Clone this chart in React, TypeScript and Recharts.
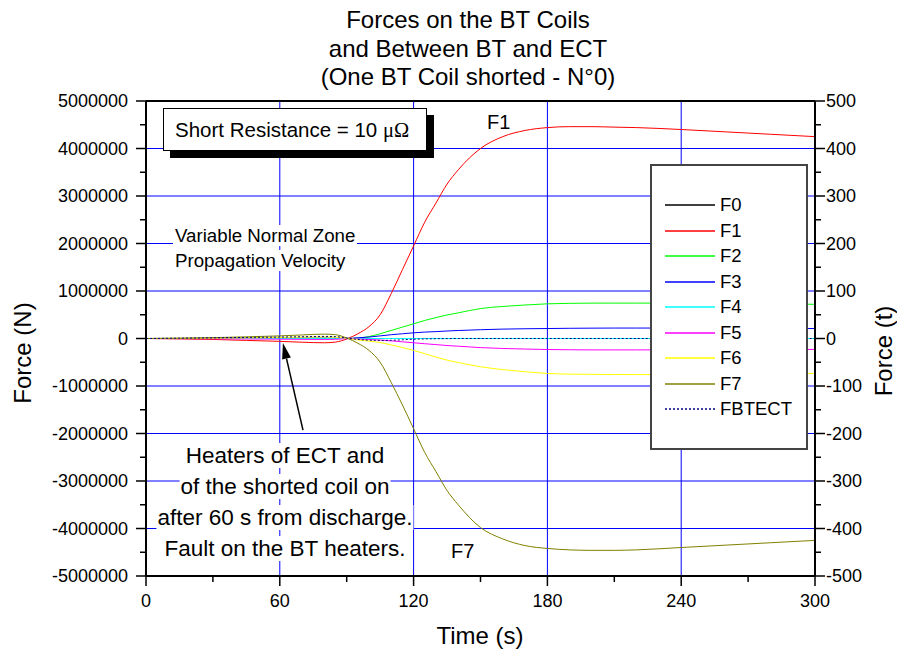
import { CartesianGrid, Line, LineChart, ReferenceLine, XAxis, YAxis } from "recharts";

// time base (s)
const T = [0, 15, 30, 45, 60, 70, 80, 85, 90, 95, 100, 105, 110, 115, 120, 125, 130, 135, 140, 150, 160, 170, 180, 190, 200, 210, 220, 240, 260, 280, 300];

// forces (N)
const F0 = [0, 0, 0, 0, 0, 0, 0, 0, 0, 0, 0, 0, 0, 0, 0, 0, 0, 0, 0, 0, 0, 0, 0, 0, 0, 0, 0, 0, 0, 0, 0];
const F1 = [0, -8000, -20000, -40000, -60000, -78000, -90000, -75000, -10000, 100000, 250000, 500000, 950000, 1450000, 1950000, 2450000, 2850000, 3250000, 3550000, 4000000, 4250000, 4380000, 4440000, 4460000, 4460000, 4450000, 4440000, 4400000, 4350000, 4300000, 4250000];
const F2 = [0, 0, 2000, 4000, 5000, 5000, 5000, 4000, 0, 10000, 40000, 100000, 170000, 240000, 310000, 380000, 440000, 495000, 540000, 630000, 675000, 705000, 730000, 740000, 745000, 745000, 745000, 745000, 740000, 730000, 720000];
const F3 = [0, 2000, 4000, 6000, 8000, 10000, 10000, 8000, 0, 15000, 30000, 55000, 80000, 100000, 120000, 135000, 145000, 158000, 168000, 185000, 198000, 205000, 210000, 215000, 218000, 220000, 220000, 220000, 218000, 215000, 210000];
const F4 = [0, 0, 0, 0, 0, 0, 0, 0, 0, 0, 0, 0, 0, 0, 0, 0, 0, 0, 0, 0, 0, 0, 0, 0, 0, 0, 0, 0, 0, 0, 0];
const F5 = [0, -3000, -6000, -10000, -14000, -17000, -20000, -17000, -3000, -10000, -20000, -32000, -50000, -70000, -90000, -110000, -128000, -148000, -162000, -192000, -210000, -222000, -232000, -237000, -240000, -240000, -240000, -238000, -235000, -232000, -230000];
const F6 = [0, 4000, 9000, 15000, 22000, 28000, 33000, 28000, 5000, -30000, -55000, -85000, -135000, -190000, -250000, -320000, -390000, -455000, -505000, -595000, -655000, -700000, -735000, -750000, -755000, -758000, -760000, -760000, -755000, -745000, -735000];
const F7 = [0, 6000, 18000, 35000, 55000, 75000, 92000, 80000, 10000, -100000, -250000, -500000, -930000, -1400000, -1900000, -2400000, -2800000, -3200000, -3500000, -3980000, -4220000, -4360000, -4420000, -4450000, -4460000, -4460000, -4450000, -4400000, -4350000, -4300000, -4250000];
const FBTECT = [0, 7000, 14000, 22000, 30000, 37000, 44000, 40000, 10000, -20000, -35000, -40000, -38000, -28000, -15000, -8000, -4000, -2000, 0, 0, 0, 0, 0, 0, 0, 0, 0, 0, 0, 0, 0];

const X_TICKS = [0, 30, 60, 90, 120, 150, 180, 210, 240, 270, 300];
const N_TICKS = [-5000000, -4500000, -4000000, -3500000, -3000000, -2500000, -2000000, -1500000, -1000000, -500000, 0, 500000, 1000000, 1500000, 2000000, 2500000, 3000000, 3500000, 4000000, 4500000, 5000000];
const TON_TICKS = [-500, -450, -400, -350, -300, -250, -200, -150, -100, -50, 0, 50, 100, 150, 200, 250, 300, 350, 400, 450, 500];
const GRID_N = [-4000000, -3000000, -2000000, -1000000, 0, 1000000, 2000000, 3000000, 4000000];
const GRID_T = [60, 120, 180, 240];

const SERIES = [
  { key: "F0", values: F0, color: "#000000" },
  { key: "F1", values: F1, color: "#ff0000" },
  { key: "F2", values: F2, color: "#00ff00" },
  { key: "F3", values: F3, color: "#0000ff" },
  { key: "F4", values: F4, color: "#00ffff" },
  { key: "F5", values: F5, color: "#ff00ff" },
  { key: "F6", values: F6, color: "#ffff00" },
  { key: "F7", values: F7, color: "#808000" },
  { key: "FBTECT", values: FBTECT, color: "#000080", dash: "2 2" },
];

const data = T.map((t, i) => {
  const row: Record<string, number> = { t };
  for (const s of SERIES) row[s.key] = s.values[i];
  return row;
});

const FONT = "'Liberation Sans', Arial, sans-serif";

function LeftTick({ x, y, payload }: any) {
  const major = payload.value % 1000000 === 0;
  return (
    <g>
      <line x1={x - (major ? 10 : 6)} x2={x} y1={y} y2={y} stroke="#000" strokeWidth={1.5} />
      {major && (
        <text x={x - 18} y={y} textAnchor="end" dominantBaseline="central" fontSize={18} fill="#000">
          {payload.value}
        </text>
      )}
    </g>
  );
}

function RightTick({ x, y, payload }: any) {
  const major = payload.value % 100 === 0;
  return (
    <g>
      <line x1={x} x2={x + (major ? 10 : 6)} y1={y} y2={y} stroke="#000" strokeWidth={1.5} />
      {major && (
        <text x={x + 11} y={y} textAnchor="start" dominantBaseline="central" fontSize={18} fill="#000">
          {payload.value}
        </text>
      )}
    </g>
  );
}

function BottomTick({ x, y, payload }: any) {
  const major = payload.value % 60 === 0;
  return (
    <g>
      <line x1={x} x2={x} y1={y} y2={y + (major ? 10 : 6)} stroke="#000" strokeWidth={1.5} />
      {major && (
        <text x={x} y={y + 25} textAnchor="middle" dominantBaseline="central" fontSize={18} fill="#000">
          {payload.value}
        </text>
      )}
    </g>
  );
}

// pointer from the note up to the curves at ~60 s
function Arrow({ x1, y1, x2, y2 }: any) {
  const dx = x2 - x1;
  const dy = y2 - y1;
  const len = Math.hypot(dx, dy);
  const ux = dx / len;
  const uy = dy / len;
  const headLen = 16;
  const headW = 4.5;
  const bx = x2 - ux * headLen;
  const by = y2 - uy * headLen;
  return (
    <g>
      <line x1={x1} y1={y1} x2={bx} y2={by} stroke="#000" strokeWidth={1.5} />
      <polygon
        points={`${x2},${y2} ${bx - uy * headW},${by + ux * headW} ${bx + uy * headW},${by - ux * headW}`}
        fill="#000"
      />
    </g>
  );
}

const noteLines = [
  "Heaters of ECT and",
  "of the shorted coil on",
  "after 60 s from discharge.",
  "Fault on the BT heaters.",
];

export default function App() {
  return (
    <div style={{ position: "absolute", left: 0, top: 0, width: 897, height: 653, fontFamily: FONT, background: "#fff", overflow: "hidden" }}>
      <LineChart width={897} height={653} data={data} margin={{ top: 101, right: 22, bottom: 37, left: 66 }}>
        <CartesianGrid
          yAxisId="N"
          stroke="#0000ff"
          strokeWidth={1}
          horizontalValues={GRID_N}
          verticalValues={GRID_T}
        />
        <XAxis
          dataKey="t"
          type="number"
          domain={[0, 300]}
          allowDataOverflow
          ticks={X_TICKS}
          interval={0}
          height={40}
          tickSize={0}
          tickMargin={0}
          tick={<BottomTick />}
          axisLine={{ stroke: "#000", strokeWidth: 2 }}
        />
        <YAxis
          yAxisId="N"
          type="number"
          domain={[-5000000, 5000000]}
          allowDataOverflow
          ticks={N_TICKS}
          interval={0}
          width={80}
          tickSize={0}
          tickMargin={0}
          tick={<LeftTick />}
          axisLine={{ stroke: "#000", strokeWidth: 2 }}
        />
        <YAxis
          yAxisId="t"
          orientation="right"
          type="number"
          domain={[-500, 500]}
          allowDataOverflow
          ticks={TON_TICKS}
          interval={0}
          width={60}
          tickSize={0}
          tickMargin={0}
          tick={<RightTick />}
          axisLine={{ stroke: "#000", strokeWidth: 2 }}
        />
        <ReferenceLine yAxisId="N" y={5000000} stroke="#000" strokeWidth={2} />
        {SERIES.map((s) => (
          <Line
            key={s.key}
            yAxisId="N"
            dataKey={s.key}
            type="monotone"
            stroke={s.color}
            strokeWidth={1}
            strokeDasharray={s.dash}
            dot={false}
            activeDot={false}
            isAnimationActive={false}
          />
        ))}
        <ReferenceLine
          yAxisId="N"
          segment={[
            { x: 70.4, y: -1930000 },
            { x: 61.4, y: -95000 },
          ]}
          shape={<Arrow />}
        />
      </LineChart>

      {/* titles and notes */}
      <div
        style={{
          position: "absolute",
          left: 168,
          top: 6,
          width: 600,
          textAlign: "center",
          fontSize: 24,
          lineHeight: "28.5px",
          color: "#000",
        }}
      >
        <div>Forces on the BT Coils</div>
        <div>and Between BT and ECT</div>
        <div>(One BT Coil shorted - N°0)</div>
      </div>

      <div style={{ position: "absolute", left: 380, width: 200, top: 622, textAlign: "center", fontSize: 24, lineHeight: "28px" }}>
        Time (s)
      </div>
      <div
        style={{
          position: "absolute",
          left: 22.5 - 100,
          top: 353 - 12,
          width: 200,
          height: 24,
          lineHeight: "24px",
          textAlign: "center",
          fontSize: 24,
          transform: "rotate(-90deg)",
        }}
      >
        Force (N)
      </div>
      <div
        style={{
          position: "absolute",
          left: 884 - 100,
          top: 351 - 12,
          width: 200,
          height: 24,
          lineHeight: "24px",
          textAlign: "center",
          fontSize: 24,
          transform: "rotate(-90deg)",
        }}
      >
        Force (t)
      </div>

      <div
        style={{
          position: "absolute",
          left: 163,
          top: 108,
          width: 264,
          height: 43,
          boxSizing: "border-box",
          border: "1px solid #000",
          background: "#fff",
          boxShadow: "7px 7px 0 #000",
          fontSize: 20.5,
          lineHeight: "41px",
          paddingLeft: 11,
          whiteSpace: "nowrap",
        }}
      >
        Short Resistance = 10 <span style={{ fontFamily: "'Liberation Serif', serif" }}>μΩ</span>
      </div>

      <div style={{ position: "absolute", left: 487, top: 110, fontSize: 20, lineHeight: "24px" }}>F1</div>
      <div style={{ position: "absolute", left: 451, top: 539, fontSize: 20, lineHeight: "24px" }}>F7</div>

      <div style={{ position: "absolute", left: 173, top: 225, height: 21, lineHeight: "21px", fontSize: 18.7, background: "#fff", padding: "0 2px", whiteSpace: "nowrap" }}>
        Variable Normal Zone
      </div>
      <div style={{ position: "absolute", left: 173, top: 250, height: 21, lineHeight: "21px", fontSize: 18.7, background: "#fff", padding: "0 2px", whiteSpace: "nowrap" }}>
        Propagation Velocity
      </div>

      {noteLines.map((line, i) => (
        <div
          key={line}
          style={{
            position: "absolute",
            left: 285,
            top: 443 + i * 31,
            transform: "translateX(-50%)",
            height: 25,
            lineHeight: "25px",
            fontSize: 22.5,
            background: "#fff",
            padding: "0 1px",
            whiteSpace: "nowrap",
          }}
        >
          {line}
        </div>
      ))}

      {/* legend */}
      <div
        style={{
          position: "absolute",
          left: 650,
          top: 164,
          width: 158,
          height: 286,
          boxSizing: "border-box",
          border: "2px solid #444",
          background: "#fff",
        }}
      >
        {SERIES.map((s, i) => (
          <div
            key={s.key}
            style={{
              position: "absolute",
              left: 13,
              top: 27 + i * 25.5,
              height: 24,
              display: "flex",
              alignItems: "center",
              fontSize: 18.5,
            }}
          >
            <svg width={50} height={4} style={{ marginRight: 5 }}>
              <line x1={0} x2={50} y1={2} y2={2} stroke={s.color} strokeWidth={1.5} strokeDasharray={s.dash} />
            </svg>
            <span>{s.key}</span>
          </div>
        ))}
      </div>
    </div>
  );
}
